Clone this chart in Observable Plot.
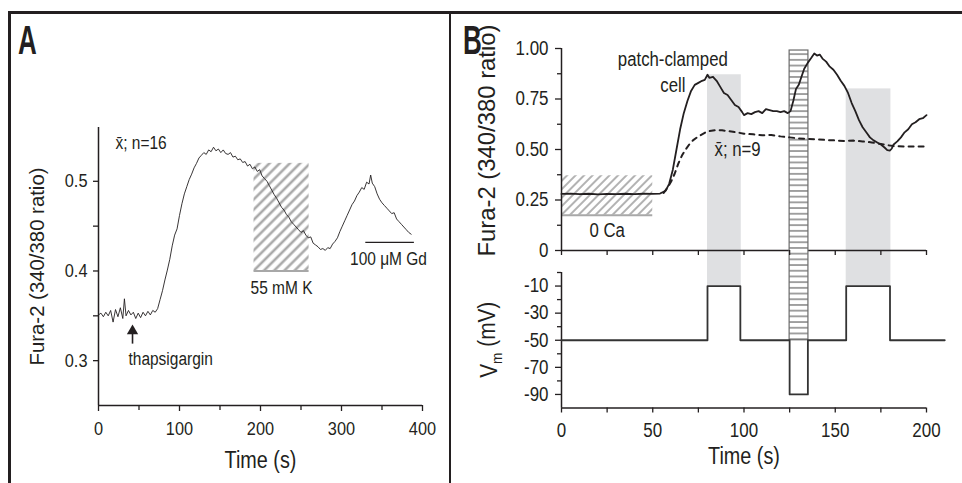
<!DOCTYPE html>
<html><head><meta charset="utf-8">
<script src="https://cdn.jsdelivr.net/npm/d3@7"></script>
<script src="https://cdn.jsdelivr.net/npm/@observablehq/plot@0.6"></script>
<style>
html,body{margin:0;padding:0;background:#fff;}
#fig{position:relative;width:962px;height:483px;overflow:hidden;background:#fff;}
#fig svg{position:absolute;left:0;top:0;overflow:visible;}
.rule{position:absolute;background:#231f20;}
.panel{position:absolute;font-family:"Liberation Sans",Arial,sans-serif;font-weight:bold;font-size:40px;line-height:1;transform:scaleX(0.65);transform-origin:left top;color:#231f20;}
</style></head><body>
<div id="fig">
  <div class="rule" style="left:8px;top:11px;width:954px;height:3px"></div>
  <div class="rule" style="left:8px;top:11px;width:3px;height:472px"></div>
  <div class="rule" style="left:449px;top:11px;width:2px;height:472px"></div>
  <div class="panel" style="left:18px;top:20px">A</div>
  <div class="panel" style="left:463px;top:20px">B</div>
</div>
<script>
// ---------------- Panel A data ----------------
const aTime = [
  0,3,6,9,12,15,18,21,24,27,
  30,32,34,37,40,43,46,49,52,55,
  58,61,64,67,70,73,76,79,82,85,
  88,91,94,97,100,103,106,109,112,115,
  118,121,124,127,130,133,136,139,142,145,
  148,151,154,157,160,163,166,169,172,175,
  178,181,184,187,190,193,196,199,202,205,
  208,211,214,217,220,223,226,229,232,235,
  238,241,244,247,250,253,256,259,262,265,
  268,271,274,277,280,283,286,289,292,295,
  298,301,304,307,310,313,316,319,322,325,
  328,331,334,336,338,341,344,347,350,353,
  356,359,362,365,368,371,374,377,380,383,
  386];
const aRatio = [
  .351,.353,.349,.354,.350,.356,.343,.357,.349,.359,
  .347,.369,.350,.356,.351,.354,.347,.353,.348,.354,
  .350,.355,.351,.356,.354,.358,.368,.378,.390,.401,
  .413,.428,.440,.447,.462,.475,.486,.494,.502,.508,
  .515,.520,.526,.529,.532,.530,.535,.533,.538,.534,
  .536,.532,.535,.531,.530,.532,.527,.528,.524,.525,
  .521,.522,.517,.519,.514,.516,.511,.513,.506,.503,
  .500,.495,.490,.485,.481,.476,.471,.468,.463,.460,
  .455,.452,.449,.446,.443,.445,.440,.437,.438,.431,
  .429,.427,.424,.425,.423,.426,.425,.430,.433,.437,
  .444,.450,.456,.462,.468,.474,.478,.484,.488,.493,
  .491,.499,.497,.507,.498,.494,.486,.480,.476,.473,
  .470,.467,.464,.465,.458,.455,.452,.449,.446,.443,
  .441];
const aXDomain = [0, 400];
const aYDomain = [0.25, 0.56];
const aXTicks = [0, 100, 200, 300, 400];
const aXMinor = [50, 150, 250, 350];
const aYTicks = [0.3, 0.4, 0.5];
const aYMinor = [0.35, 0.45];
const kTime = [192, 260];          // 55 mM K application
const kRatio = [0.4, 0.52];
const gdTime = [330, 390];         // 100 µM Gd bar
const gdRatio = [0.432];
const thapTime = [42];             // thapsigargin arrow
const thapRatio = [0.319, 0.333];
const aNotesStart = ["x̄; n=16", "thapsigargin"];
const aNotesStartT = [21, 37];
const aNotesStartR = [0.543, 0.302];
const aNotesMid = ["55 mM K", "100 μM Gd"];
const aNotesMidT = [226, 358];
const aNotesMidR = [0.381, 0.413];

// ---------------- Panel B data ----------------
const bTime = [
  0,5,10,15,20,25,30,35,40,45,
  50,54,57,59,61,63,65,67,69,71,
  73,75,77,78.5,80,81,83,85,87,89,
  91,93,95,97,99,100,102,104,106,108,
  110,112,114,116,118,120,122,124,125.5,127,
  128.5,130,131.5,133,135,137,138.5,140,141.5,143,
  145,147,149,151,153,155,157,159,161,163,
  165,167,169,171,173,175,177,178.5,180,181,
  182,184,186,188,190,192,194,196,198,200];
const bCell = [
  .280,.282,.279,.281,.278,.280,.279,.281,.279,.281,
  .280,.282,.295,.330,.400,.500,.600,.680,.740,.790,
  .820,.830,.840,.845,.870,.855,.860,.840,.810,.780,
  .770,.745,.720,.710,.685,.670,.680,.675,.685,.690,
  .680,.700,.695,.690,.690,.685,.690,.680,.690,.740,
  .800,.820,.860,.900,.930,.955,.975,.965,.970,.950,
  .935,.910,.895,.870,.840,.815,.780,.730,.690,.645,
  .610,.585,.560,.545,.535,.525,.510,.497,.495,.505,
  .525,.540,.560,.585,.600,.625,.635,.650,.655,.670];
const bMeanTime = [
  56,58,60,62,64,66,68,70,72,75,
  78,80,84,88,92,96,100,105,110,115,
  120,125,130,135,140,145,150,155,160,165,
  170,175,178,182,188,194,200];
const bMean = [
  .285,.310,.340,.380,.430,.470,.500,.525,.545,.565,
  .580,.590,.595,.595,.590,.585,.578,.575,.570,.572,
  .565,.560,.555,.552,.550,.547,.545,.542,.544,.540,
  .535,.527,.522,.517,.515,.515,.515];
const vmTime = [0, 80, 98, 125, 135, 156, 180, 210];
const vmValue = [-50, -10, -50, -90, -50, -10, -50, -50];
const bXDomain = [0, 200];
const bTopYDomain = [0, 1];
const vmDomain = [-100, 0];
const bXTicks = [0, 50, 100, 150, 200];
const bXAll = [0, 25, 50, 75, 100, 125, 150, 175, 200];
const bTopYTicks = [0, 0.25, 0.5, 0.75, 1];
const bTopYMinor = [0.125, 0.375, 0.625, 0.875];
const vmTicks = [-10, -30, -50, -70, -90];
const vmMinor = [0, -20, -40, -60, -80];
const depolStart = [80, 156];      // grey depolarisation windows
const depolEnd = [98.5, 180.5];
const depolTop = [0.87, 0.80];
const hyperTime = [125, 135.3];    // striped hyperpolarisation bar
const hyperTop = [0.99];
const caFreeTime = [0, 50];        // 0 Ca hatched window
const caFreeRatio = [0.175, 0.37];
const bNotes = ["patch-clamped", "cell", "x̄; n=9", "0 Ca"];
const bNotesT = [61, 61, 96.5, 25];
const bNotesR = [0.942, 0.815, 0.499, 0.099];
const furaLabel = "Fura-2 (340/380 ratio)";
const timeLabel = "Time (s)";

// ---------------- layout ----------------
const W = 962, H = 483;
const INK = "#231f20";
const FONT = '"Liberation Sans",Arial,sans-serif';
const mA = {left: 98, right: W - 422, top: 127, bottom: H - 405};
const mBT = {left: 561, right: W - 926, top: 48, bottom: H - 250};
const mBB = {left: 561, right: W - 926, top: 272, bottom: H - 407.5};
const baseStyle = {fontFamily: FONT, color: INK, background: "transparent", overflow: "visible"};
const fig = document.getElementById("fig");

function addDefs(svg, defsList) {
  const defs = d3.select(svg).insert("defs", ":first-child");
  for (const p of defsList) {
    const pat = defs.append("pattern").attr("id", p.id)
      .attr("patternUnits", "userSpaceOnUse")
      .attr("width", p.w).attr("height", p.h);
    if (p.rotate) pat.attr("patternTransform", `rotate(${p.rotate})`);
    if (p.bg) pat.append("rect").attr("width", p.w).attr("height", p.h).attr("fill", p.bg);
    if (p.dir === "v") {
      pat.append("line").attr("x1", p.w / 2).attr("x2", p.w / 2).attr("y1", 0).attr("y2", p.h)
        .attr("stroke", p.color).attr("stroke-width", p.sw);
    } else {
      pat.append("line").attr("y1", p.h / 2).attr("y2", p.h / 2).attr("x1", 0).attr("x2", p.w)
        .attr("stroke", p.color).attr("stroke-width", p.sw);
    }
  }
}
// the original type is a condensed face: squeeze every text horizontally
function condense(svg, factor, lengths) {
  d3.select(svg).selectAll("text").each(function () {
    const txt = this.textContent;
    const len = this.getComputedTextLength();
    if (!(len > 0)) return;
    const fixed = lengths && lengths[txt] != null;
    const target = fixed ? lengths[txt] : len * factor;
    if (fixed) this.setAttribute("text-anchor", "middle");
    this.setAttribute("textLength", target.toFixed(2));
    this.setAttribute("lengthAdjust", "spacingAndGlyphs");
  });
}

// ---------------- Panel A ----------------
const aTrace = aTime.map((t, i) => ({t, r: aRatio[i]}));
const plotA = Plot.plot({
  width: W, height: H,
  marginLeft: mA.left, marginRight: mA.right, marginTop: mA.top, marginBottom: mA.bottom,
  x: {domain: aXDomain}, y: {domain: aYDomain},
  style: baseStyle,
  marks: [
    Plot.rect([0], {x1: kTime[0], x2: kTime[1], y1: kRatio[0], y2: kRatio[1], fill: "url(#hatchA)"}),
    Plot.ruleY([kRatio[0]], {x1: kTime[0], x2: kTime[1], stroke: "#a8a8a8", strokeWidth: 2}),
    Plot.ruleY(gdRatio, {x1: gdTime[0], x2: gdTime[1], stroke: INK, strokeWidth: 1.2}),
    Plot.ruleX([aXDomain[0]], {y1: aYDomain[0], y2: aYDomain[1], stroke: INK, strokeWidth: 1.5}),
    Plot.ruleY([aYDomain[0]], {x1: aXDomain[0], x2: aXDomain[1], stroke: INK, strokeWidth: 1.5}),
    Plot.axisX({ticks: aXTicks, tickSize: 6, tickPadding: 10, fontSize: 19, tickFormat: d => String(d), label: null, stroke: INK, strokeWidth: 1.3}),
    Plot.axisX({ticks: aXMinor, tickSize: 5, tickFormat: () => "", label: null, stroke: INK, strokeWidth: 1.3}),
    Plot.axisY({ticks: aYTicks, tickSize: 5, tickPadding: 6, fontSize: 19, tickFormat: d => d.toFixed(1), label: null, stroke: INK, strokeWidth: 1.3}),
    Plot.axisY({ticks: aYMinor, tickSize: 5, tickFormat: () => "", label: null, stroke: INK, strokeWidth: 1.3}),
    Plot.line(aTrace, {x: "t", y: "r", stroke: INK, strokeWidth: 0.9}),
    Plot.link(thapTime, {x1: d => d, x2: d => d, y1: thapRatio[0], y2: thapRatio[1], stroke: INK, strokeWidth: 1.6}),
    Plot.dot(thapTime, {x: d => d, y: thapRatio[1], symbol: "triangle", r: 4.2, fill: INK, stroke: "none"}),
    Plot.text(aNotesStart, {x: (d, i) => aNotesStartT[i], y: (d, i) => aNotesStartR[i], text: d => d, textAnchor: "start", fontSize: 18, fill: INK}),
    Plot.text(aNotesMid, {x: (d, i) => aNotesMidT[i], y: (d, i) => aNotesMidR[i], text: d => d, textAnchor: "middle", fontSize: 18, fill: INK}),
    Plot.text([furaLabel], {frameAnchor: "left", lineAnchor: "middle", rotate: -90, dx: -61, text: d => d, fontSize: 20, fill: INK}),
    Plot.text([timeLabel], {frameAnchor: "bottom", lineAnchor: "middle", dy: 55, text: d => d, fontSize: 23, fill: INK})
  ]
});
addDefs(plotA, [{id: "hatchA", w: 7.2, h: 7.2, rotate: 45, dir: "v", color: "#aaaaaa", sw: 2.6}]);
fig.appendChild(plotA);
condense(plotA, 0.86, {[furaLabel]: 198});

// ---------------- Panel B ----------------
// scales used to carry the grey windows and striped bar across both sub-plots
const yTopS = Plot.scale({y: {domain: bTopYDomain, range: [H - mBT.bottom, mBT.top]}});
const yBotS = Plot.scale({y: {domain: vmDomain, range: [H - mBB.bottom, mBB.top]}});
const depolFloor = yTopS.invert(yBotS.apply(vmValue[1]));   // down to the -10 mV step
const hyperFloor = yTopS.invert(yBotS.apply(vmValue[0]));   // down to the -50 mV holding level

const cellTrace = bTime.map((t, i) => ({t, r: bCell[i]}));
const meanTrace = bMeanTime.map((t, i) => ({t, r: bMean[i]}));
const windows = depolStart.map((s, i) => ({s, e: depolEnd[i], top: depolTop[i]}));

const plotBT = Plot.plot({
  width: W, height: H,
  marginLeft: mBT.left, marginRight: mBT.right, marginTop: mBT.top, marginBottom: mBT.bottom,
  x: {domain: bXDomain}, y: {domain: bTopYDomain},
  style: baseStyle,
  marks: [
    Plot.rect(windows, {x1: "s", x2: "e", y1: depolFloor, y2: "top", fill: "#dfe0e2"}),
    Plot.rect([0], {x1: caFreeTime[0], x2: caFreeTime[1], y1: caFreeRatio[0], y2: caFreeRatio[1], fill: "url(#hatchB)"}),
    Plot.ruleY([caFreeRatio[0]], {x1: caFreeTime[0], x2: caFreeTime[1], stroke: "#a8a8a8", strokeWidth: 2}),
    Plot.ruleX([bXDomain[0]], {y1: bTopYDomain[0], y2: bTopYDomain[1], stroke: INK, strokeWidth: 1.5}),
    Plot.ruleY([bTopYDomain[0]], {x1: bXDomain[0], x2: bXDomain[1], stroke: INK, strokeWidth: 1.5}),
    Plot.rect([0], {x1: hyperTime[0], x2: hyperTime[1], y1: hyperFloor, y2: hyperTop[0], fill: "url(#hstripe)", stroke: "#6a6a6a", strokeWidth: 1.2}),
    Plot.axisX({ticks: bXAll, tickSize: 5, tickFormat: () => "", label: null, stroke: INK, strokeWidth: 1.3}),
    Plot.axisY({ticks: bTopYTicks, tickSize: 6, tickPadding: 7, fontSize: 19.7, tickFormat: d => d === 0 ? "0" : d.toFixed(2), label: null, stroke: INK, strokeWidth: 1.3}),
    Plot.axisY({ticks: bTopYMinor, tickSize: 4, tickFormat: () => "", label: null, stroke: INK, strokeWidth: 1.3}),
    Plot.line(meanTrace, {x: "t", y: "r", stroke: INK, strokeWidth: 2, strokeDasharray: "5,5"}),
    Plot.line(cellTrace, {x: "t", y: "r", stroke: INK, strokeWidth: 1.8}),
    Plot.text(bNotes, {x: (d, i) => bNotesT[i], y: (d, i) => bNotesR[i], text: d => d, fontSize: 19.5, fill: INK}),
    Plot.text([furaLabel], {frameAnchor: "left", lineAnchor: "middle", rotate: -90, dx: -74, dy: -9, text: d => d, fontSize: 24, fill: INK})
  ]
});
addDefs(plotBT, [
  {id: "hatchB", w: 6, h: 6, rotate: 45, dir: "v", color: "#aaaaaa", sw: 1.8},
  {id: "hstripe", w: 10, h: 5.7, dir: "h", color: "#8c8c8c", sw: 1.6, bg: "#ffffff"}
]);
fig.appendChild(plotBT);
condense(plotBT, 0.86, {[furaLabel]: 232});

const vmTrace = vmTime.map((t, i) => ({t, v: vmValue[i]}));
const plotBB = Plot.plot({
  width: W, height: H,
  marginLeft: mBB.left, marginRight: mBB.right, marginTop: mBB.top, marginBottom: mBB.bottom,
  x: {domain: bXDomain}, y: {domain: vmDomain},
  style: baseStyle,
  marks: [
    Plot.ruleX([bXDomain[0]], {y1: vmDomain[0], y2: vmDomain[1], stroke: INK, strokeWidth: 1.5}),
    Plot.ruleY([vmDomain[0]], {x1: bXDomain[0], x2: bXDomain[1], stroke: INK, strokeWidth: 1.5}),
    Plot.axisX({ticks: bXAll, tickSize: 5, tickPadding: 10, fontSize: 19.7, tickFormat: d => bXTicks.includes(d) ? String(d) : "", label: null, stroke: INK, strokeWidth: 1.3}),
    Plot.axisY({ticks: vmTicks, tickSize: 6, tickPadding: 7, fontSize: 19.7, tickFormat: d => String(d), label: null, stroke: INK, strokeWidth: 1.3}),
    Plot.axisY({ticks: vmMinor, tickSize: 4, tickFormat: () => "", label: null, stroke: INK, strokeWidth: 1.3}),
    Plot.line(vmTrace, {x: "t", y: "v", curve: "step-after", stroke: "#333333", strokeWidth: 1.8}),
    Plot.text([timeLabel], {frameAnchor: "bottom", lineAnchor: "middle", dy: 49, text: d => d, fontSize: 23, fill: INK})
  ]
});
// Vm axis title with a subscript
{
  const cy = (mBB.top + (H - mBB.bottom)) / 2;
  const t = d3.select(plotBB).append("text")
    .attr("transform", `translate(${mBB.left - 72},${cy}) rotate(-90)`)
    .attr("text-anchor", "middle").attr("dy", "0.35em")
    .attr("font-size", 23).attr("fill", INK).attr("font-family", FONT);
  t.append("tspan").text("V");
  t.append("tspan").attr("font-size", 15).attr("dy", "0.3em").text("m");
  t.append("tspan").attr("dy", "-0.3em").text(" (mV)");
}
fig.appendChild(plotBB);
condense(plotBB, 0.86, {"Vm (mV)": 76});
</script>
</body></html>
